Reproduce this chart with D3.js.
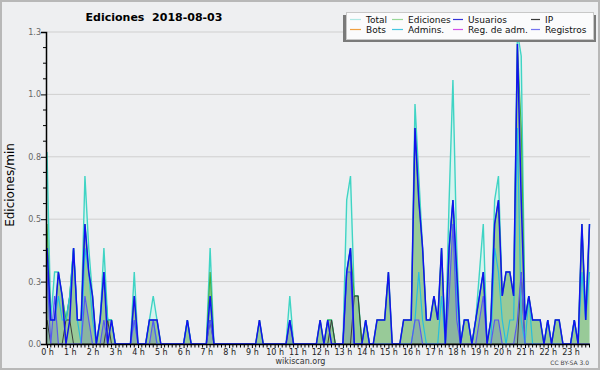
<!DOCTYPE html>
<html><head><meta charset="utf-8">
<script src="https://cdn.jsdelivr.net/npm/d3@7"></script>
<style>body{margin:0;background:#fff}svg{display:block;font-family:"DejaVu Sans",sans-serif}</style>
</head><body><svg id="c" width="600" height="370"></svg>
<script>
// 144 ten-minute slots (00:00 .. 23:50), edits per minute
const total = [
 .8,.1,.3,.3,.2,.1,  .2,.4,.1,.1,.7,.4,  .2,0,.1,.4,.1,.1,  0,0,0,0,0,.3,
 0,0,0,.1,.2,.1,     0,0,0,0,0,0,        0,.1,0,0,0,0,      0,.4,0,0,0,0,
 0,0,0,0,0,0,        0,0,.1,0,0,0,       0,0,0,0,.2,0,      0,0,0,0,0,0,
 .1,0,.1,.1,0,0,     0,.6,.7,.2,.2,0,    .1,0,0,.1,.1,.1,   .3,0,0,0,.1,.1,
 .1,1.0,.7,.4,.1,.1, .2,.1,.4,0,.6,1.1,  .4,0,.1,.1,0,.1,   .3,.5,0,.1,.6,.7,
 .2,.3,.3,.2,1.3,1.2, .1,.2,.1,.1,.1,0,  .1,0,.1,.1,0,0,    0,.1,0,.5,.1,.5];
const ediciones = [
 .5,.1,.1,.3,.2,.1,  .2,.4,.1,.1,.5,.3,  .2,0,.1,.3,.1,.1,  0,0,0,0,0,.2,
 0,0,0,.1,.1,.1,     0,0,0,0,0,0,        0,.1,0,0,0,0,      0,.3,0,0,0,0,
 0,0,0,0,0,0,        0,0,.1,0,0,0,       0,0,0,0,.1,0,      0,0,0,0,0,0,
 .1,0,.1,.1,0,0,     0,.3,.4,.2,.2,0,    .1,0,0,.1,.1,.1,   .3,0,0,0,.1,.1,
 .1,.9,.6,.4,.1,.1,  .2,.1,.4,0,.4,.6,   .3,0,.1,.1,0,.1,   .2,.3,0,.1,.5,.6,
 .2,.3,.3,.2,1.25,.9, .1,.2,.1,.1,.1,0,  .1,0,.1,.1,0,0,    0,.1,0,.5,.1,.5];
const usuarios = [
 .4,.1,.1,.3,.2,0,   .1,.4,.1,.1,.5,.3,  .2,0,.1,.3,0,.1,   0,0,0,0,0,.2,
 0,0,0,.1,.1,.1,     0,0,0,0,0,0,        0,.1,0,0,0,0,      0,.2,0,0,0,0,
 0,0,0,0,0,0,        0,0,.1,0,0,0,       0,0,0,0,.1,0,      0,0,0,0,0,0,
 .1,0,.1,0,0,0,      0,.3,.4,0,0,0,      .1,0,0,.1,.1,.1,   .3,0,0,0,.1,.1,
 .1,.9,.6,.4,.1,.1,  .2,.1,.4,0,.4,.6,   .3,0,.1,.1,0,.1,   .2,.3,0,.1,.5,.6,
 .2,.3,.3,.2,1.25,.6, .1,.2,.1,.1,.1,0,  .1,0,.1,.1,0,0,    0,.1,0,.5,.1,.5];
const ip = [
 .1,0,0,0,0,.1,      .1,0,0,0,0,0,       0,0,0,0,.1,0,      0,0,0,0,0,0,
 0,0,0,0,0,0,        0,0,0,0,0,0,        0,0,0,0,0,0,       0,.1,0,0,0,0,
 0,0,0,0,0,0,        0,0,0,0,0,0,        0,0,0,0,0,0,       0,0,0,0,0,0,
 0,0,0,.1,0,0,       0,0,0,.2,.2,0,      0,0,0,0,0,0,       0,0,0,0,0,0,
 0,0,0,0,0,0,        0,0,0,0,0,0,        0,0,0,0,0,0,       0,0,0,0,0,0,
 0,0,0,0,0,.3,       0,0,0,0,0,0,        0,0,0,0,0,0,       0,0,0,0,0,0];
const admins = [
 .4,.1,.1,.2,.1,.1,  .2,.4,.1,0,.4,.3,   .1,0,.1,.3,.1,.1,  0,0,0,0,0,.1,
 0,0,0,.1,.1,0,      0,0,0,0,0,0,        0,.1,0,0,0,0,      0,.2,0,0,0,0,
 0,0,0,0,0,0,        0,0,0,0,0,0,        0,0,0,0,0,0,       0,0,0,0,0,0,
 0,0,0,0,0,0,        0,.3,.4,0,0,0,      .1,0,0,0,0,0,      0,0,0,0,0,0,
 0,.1,.3,.1,0,0,     0,0,.2,0,.4,.6,     .2,0,.1,.1,0,.1,   .2,.3,0,0,.4,.3,
 .1,0,.1,.1,.9,.1,   0,.2,0,0,0,0,       .1,0,0,0,0,0,      0,.1,0,.3,.1,.3];
const registros = [
 .3,0,.2,0,0,0,      0,0,0,0,.2,.1,      0,0,0,.1,0,0,      0,0,0,0,0,.1,
 0,0,0,0,.1,0,       0,0,0,0,0,0,        0,0,0,0,0,0,       0,.1,0,0,0,0,
 0,0,0,0,0,0,        0,0,0,0,0,0,        0,0,0,0,.1,0,      0,0,0,0,0,0,
 0,0,0,0,0,0,        0,.3,.3,0,0,0,      0,0,0,0,0,0,       0,0,0,0,0,0,
 0,.1,.1,0,0,0,      0,0,0,0,.2,.5,      .1,0,0,0,0,0,      .1,.2,0,0,.1,.1,
 0,0,0,0,.1,.3,      0,0,0,0,0,0,        0,0,0,0,0,0,       0,0,0,0,0,0];

const hourLabels = ["0 h","1 h","2 h","3 h","4 h","5 h","6 h","7 h","8 h","9 h","10 h","11 h",
 "12 h","13 h","14 h","15 h","16 h","17 h","18 h","19 h","20 h","21 h","22 h","23 h"];
const yTickValues = [0, 0.26, 0.52, 0.78, 1.04, 1.3];
const yTickLabels = ["0.0","0.3","0.5","0.8","1.0","1.3"];
const legendNames = ["Total","Ediciones","Usuarios","IP","Bots","Admins.","Reg. de adm.","Registros"];
const legendColors = ["#b0e8e4","#98d898","#3434d8","#3a3a3a","#f0a040","#46c6e0","#d050e8","#7474f0"];

const svg = d3.select("#c");
svg.append("rect").attr("x",1).attr("y",1).attr("width",598).attr("height",368)
  .attr("fill","#eeeff1").attr("stroke","#b8b8b8").attr("stroke-width",2);

const x = d3.scaleLinear().domain([0,143]).range([47,589.5]);
const y = d3.scaleLinear().domain([0,1.3]).range([344,32]);

// grid
svg.append("g").selectAll("line").data(yTickValues.slice(1)).join("line")
  .attr("x1",47).attr("x2",590).attr("y1",d=>y(d)).attr("y2",d=>y(d))
  .attr("stroke","#cfcfcf").attr("stroke-width",1);

const idx = d3.range(144);
const area = arr => d3.area().x(i=>x(i)).y0(y(0)).y1(i=>y(arr[i]))(idx);
const line = arr => d3.line().x(i=>x(i)).y(i=>y(arr[i]))(idx);

const plot = svg.append("g");
plot.append("path").attr("d",area(total)).attr("fill","#d2f3ef").attr("opacity",0.85);
plot.append("path").attr("d",area(ediciones)).attr("fill","#98ca98");
plot.append("path").attr("d",area(registros)).attr("fill","rgba(70,70,210,0.16)");
plot.append("path").attr("d",line(total)).attr("fill","none").attr("stroke","#3fd4c4").attr("stroke-width",1.4);
plot.append("path").attr("d",line(ediciones)).attr("fill","none").attr("stroke","#44b044").attr("stroke-width",1.1);
plot.append("path").attr("d",line(ip)).attr("fill","none").attr("stroke","#3a3a3a").attr("stroke-width",1);
plot.append("path").attr("d",line(admins)).attr("fill","none").attr("stroke","#26bede").attr("stroke-width",1.2);
plot.append("path").attr("d",line(registros)).attr("fill","none").attr("stroke","#5858f0").attr("stroke-width",1.2);
plot.append("path").attr("d",line(usuarios)).attr("fill","none").attr("stroke","#1212ee").attr("stroke-width",1.5);

// y axis
const yAxis = svg.append("g").attr("transform","translate(46,0)")
  .call(d3.axisLeft(y).tickValues(yTickValues).tickSize(5).tickFormat((d,i)=>yTickLabels[i]));
yAxis.select(".domain").attr("stroke","#000").attr("stroke-width",1.5);
yAxis.selectAll(".tick line").attr("stroke","#000");
yAxis.selectAll("text").attr("font-size",8).attr("fill","#666").attr("font-family","DejaVu Sans").attr("x",-5);
const yMinor = d3.range(0,21).map(k=>k*0.065).filter((d,k)=>k%4!==0);
svg.append("g").selectAll("line").data(yMinor).join("line")
  .attr("x1",43).attr("x2",46).attr("y1",d=>y(d)).attr("y2",d=>y(d)).attr("stroke","#000");

// x axis
const hourSlots = d3.range(24).map(h=>h*6);
const xAxis = svg.append("g").attr("transform","translate(0,344)")
  .call(d3.axisBottom(x).tickValues(hourSlots).tickSize(4).tickSizeOuter(0).tickFormat((d,i)=>hourLabels[i]));
xAxis.select(".domain").attr("stroke","#000").attr("stroke-width",1.5).attr("d","M46,0.5H590");
xAxis.selectAll(".tick line").attr("stroke","#000");
xAxis.selectAll("text").attr("font-size",8).attr("fill","#222").attr("font-family","DejaVu Sans").attr("y",5);
svg.append("g").selectAll("line").data(idx.filter(i=>i%6!==0)).join("line")
  .attr("x1",i=>x(i)).attr("x2",i=>x(i)).attr("y1",344).attr("y2",347.5).attr("stroke","#000");

// title
svg.append("text").attr("x",154).attr("y",21).attr("text-anchor","middle")
  .attr("font-size",11).attr("font-weight","bold").style("white-space","pre")
  .text("Ediciones  2018-08-03");
// y label
svg.append("text").attr("transform","translate(14,185) rotate(-90)").attr("text-anchor","middle")
  .attr("font-size",12).text("Ediciones/min");
// footer
svg.append("text").attr("x",300.5).attr("y",364).attr("text-anchor","middle").attr("font-size",8).attr("fill","#333").text("wikiscan.org");
svg.append("text").attr("x",589).attr("y",365).attr("text-anchor","end").attr("font-size",6).attr("fill","#444").text("CC BY-SA 3.0");

// legend
svg.append("rect").attr("x",343).attr("y",15).attr("width",253).attr("height",27).attr("fill","#7a7a7a");
svg.append("rect").attr("x",346.5).attr("y",12.5).attr("width",247).attr("height",27).attr("fill","#fbfbfc").attr("stroke","#c8c8c8");
const colSwatch = [350,392,453,531], colText = [366,408,468,545];
const lg = svg.append("g").selectAll("g").data(legendNames).join("g");
lg.append("line")
  .attr("x1",(d,i)=>colSwatch[i%4]).attr("x2",(d,i)=>colText[i%4]-5)
  .attr("y1",(d,i)=>i<4?19.5:29.5).attr("y2",(d,i)=>i<4?19.5:29.5)
  .attr("stroke",(d,i)=>legendColors[i]).attr("stroke-width",1.2);
lg.append("text").attr("x",(d,i)=>colText[i%4]).attr("y",(d,i)=>i<4?22.5:32.5)
  .attr("font-size",9).attr("fill","#111").text(d=>d);
</script></body></html>
